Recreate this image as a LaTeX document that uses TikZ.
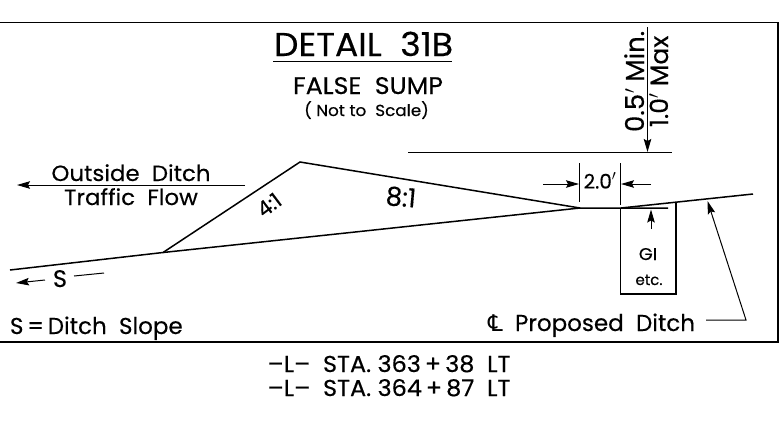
\documentclass[tikz,border=0pt]{standalone}
\usepackage{fontspec}
\setmainfont{Poppins}[FakeBold=0.35]
\newfontfamily\symfont{DejaVu Sans}
\usetikzlibrary{arrows.meta}
\tikzset{
  heavy/.style={line width=1.5pt,black},
  thin line/.style={line width=1pt,black},
  arrowed/.style={thin line,-{Stealth[length=13pt,width=7.5pt,inset=2pt]}},
  lbl/.style={inner sep=0pt,outer sep=0pt,text=black},
  fA/.style={font=\fontsize{#1}{#1}\selectfont},
}
\begin{document}
\begin{tikzpicture}[x=1pt,y=-1pt]
\useasboundingbox (0,0) rectangle (784,424);
\fill[white] (0,0) rectangle (784,424);
% frame
\coordinate (fa) at (0,22.5); \coordinate (fb) at (778,22.5); \coordinate (fc) at (778,342); \coordinate (fd) at (0,342);
\draw[heavy,line width=1.6pt] (fa) -- (fb) -- (fc) -- (fd);
% ground
\coordinate (g0) at (10,270); \coordinate (g1) at (163,252.5); \coordinate (peak) at (300,162);
\coordinate (g2) at (580,208); \coordinate (g3) at (621,208); \coordinate (g4) at (668,208); \coordinate (g5) at (753,194);
\draw[heavy] (g0) -- (g1) -- (peak) -- (g2) -- (g3) -- (g4);
\draw[heavy] (g1) -- (g2);
\draw[heavy] (g3) -- (g5);
% inlet box
\coordinate (ba) at (620.5,208); \coordinate (bb) at (620.5,294); \coordinate (bc) at (676,294); \coordinate (bd) at (676,202.5);
\draw[thin line,line width=1.2pt] (ba) -- (bb) -- (bc) -- (bd);
% dimension
\coordinate (tl) at (408,152.5); \coordinate (tr) at (672,152.5);
\draw[thin line,line width=1.2pt] (tl) -- (tr);
\coordinate (va) at (647.5,27); \coordinate (vb) at (647.5,152);
\draw[arrowed] (va) -- (vb);
\coordinate (e1a) at (579,163); \coordinate (e1b) at (579,202);
\coordinate (e2a) at (620.5,163); \coordinate (e2b) at (620.5,205);
\draw[thin line] (e1a) -- (e1b); \draw[thin line] (e2a) -- (e2b);
\coordinate (d1a) at (543,184); \coordinate (d1b) at (579,184);
\coordinate (d2a) at (651,184); \coordinate (d2b) at (621,184);
\draw[arrowed] (d1a) -- (d1b); \draw[arrowed] (d2a) -- (d2b);
% GI arrow
\coordinate (gia) at (651,229); \coordinate (gib) at (651,209.5);
\draw[arrowed] (gia) -- (gib);
% leader
\coordinate (la) at (706,320); \coordinate (lb) at (746,320); \coordinate (lc) at (707.5,201);
\draw[arrowed] (la) -- (lb) -- (lc);
% traffic
\coordinate (ta) at (245,185); \coordinate (tb) at (17,185);
\draw[arrowed] (ta) -- (tb);
% slope
\coordinate (sa) at (45,280); \coordinate (sb) at (16,283);
\draw[arrowed] (sa) -- (sb);
\coordinate (sc) at (74,276); \coordinate (sd) at (104,273);
\draw[thin line] (sc) -- (sd);
% title underline
\coordinate (ua) at (273,61.5); \coordinate (ub) at (452,61.5);
\draw[heavy,line width=1.7pt] (ua) -- (ub);
% text
\node[lbl,fA=33,xscale=1.05,anchor=base] (t1) at (363.5,56) {DETAIL\ \ 31B};
\node[lbl,fA=24,xscale=1.05,anchor=base] (t2) at (368,94) {FALSE\ \ SUMP};
\node[lbl,fA=16,xscale=1.05,anchor=base] (t3) at (366.5,116) {( Not to\ \ Scale)};
\node[lbl,fA=22,xscale=1.04,anchor=base] (t4) at (131,181) {Outside\ \ Ditch};
\node[lbl,fA=22,xscale=1.04,anchor=base] (t5) at (131,205) {Traffic\ \ Flow};
\node[lbl,fA=24,anchor=base] (t6) at (60,287) {S};
\node[lbl,fA=23,anchor=base west] (t7) at (10,334) {S\,=\,Ditch\ \ Slope};
\node[lbl,fA=21,rotate=37] (t8) at (269,205) {4:1};
\node[lbl,fA=26,rotate=-5] (t9) at (401,197) {8:1};
\node[lbl,fA=20,anchor=base] (t10) at (600,188.5) {2.0$'$};
\node[lbl,fA=17,xscale=1.05,anchor=base] (t11) at (648,260) {GI};
\node[lbl,fA=15,anchor=base] (t12) at (649,285) {etc.};
\node[lbl,fA=26,rotate=90,anchor=base west] (t13) at (644,132) {0.5$'$\ Min.};
\node[lbl,fA=25,rotate=90,anchor=base west] (t14) at (668,127) {1.0$'$\ Max};
\node[lbl,fA=23,anchor=base east] (t15) at (695,331) {{\symfont ℄}\ \ Proposed\ \ Ditch};
\node[lbl,fA=23,xscale=1.04,anchor=base] (t16) at (389,372) {--L--\ \ STA. 363\,+\,38\ \ LT};
\node[lbl,fA=23,xscale=1.04,anchor=base] (t17) at (389,396) {--L--\ \ STA. 364\,+\,87\ \ LT};
\end{tikzpicture}
\end{document}
